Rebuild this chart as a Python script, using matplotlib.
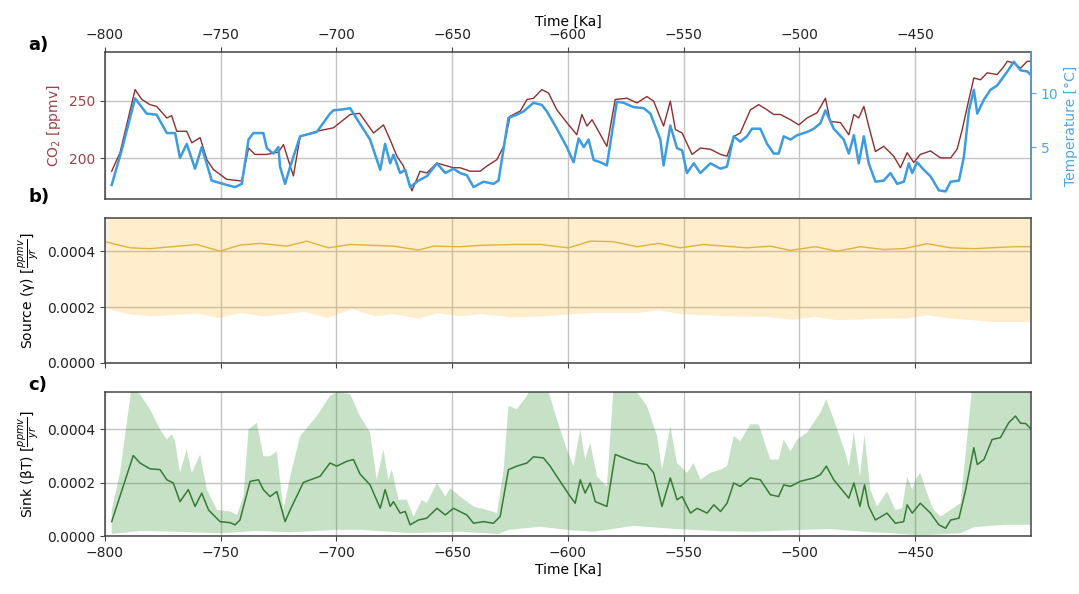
import numpy as np
import matplotlib
matplotlib.use("Agg")
import matplotlib.pyplot as plt

# panel a) CO2 and temperature
co2_time = [-797.1, -793.5, -787.0, -784.1, -780.6, -777.7, -773.3, -771.2, -769.0, -764.7,
            -762.5, -758.9, -756.0, -753.2, -747.4, -740.9, -738.0, -735.2, -730.1, -725.1,
            -722.9, -720.0, -718.6, -715.7, -708.5, -701.3, -694.1, -690.0, -684.0, -679.7,
            -676.8, -673.9, -671.1, -667.4, -663.9, -661.0, -656.6, -649.5, -646.6, -642.3,
            -637.9, -635.0, -630.7, -627.8, -625.0, -620.6, -617.7, -614.9, -611.3, -608.4,
            -604.8, -600.5, -596.2, -594.0, -591.8, -589.6, -583.2, -579.6, -574.5, -570.2,
            -565.9, -563.0, -558.7, -555.8, -553.6, -550.7, -546.4, -542.8, -538.5, -534.1,
            -531.3, -528.4, -525.6, -521.2, -517.6, -514.0, -511.1, -508.2, -503.9, -500.3,
            -496.7, -492.4, -488.8, -486.7, -482.3, -478.7, -476.5, -474.4, -472.2, -470.1,
            -467.2, -463.6, -459.3, -456.4, -453.5, -450.6, -447.8, -443.4, -439.1, -434.7,
            -431.9, -429.7, -427.5, -424.7, -421.8, -418.9, -414.6, -411.7, -410.2, -407.4,
            -404.5, -401.6, -400.2]
co2_ppmv = [189, 205, 259.5, 251, 246.5, 245, 235, 237, 223.5, 223.5,
            213.5, 218, 199, 190.5, 182, 180.5, 209, 203.5, 203.5, 205.5,
            212, 193.5, 185, 219, 223.5, 226.5, 238, 239, 222, 229,
            216, 202, 193.5, 172, 189, 187.5, 196, 192, 192, 189,
            189, 193.5, 199, 210.5, 236.5, 241, 251, 252, 259.5, 256.5,
            242, 231, 220.5, 238, 228, 233.5, 210.5, 251, 252, 248,
            253.5, 249.5, 228, 249.5, 225, 222, 203.5, 209, 208, 203.5,
            202, 219, 222, 242, 246.5, 242, 238, 238, 233.5, 229,
            235, 239.5, 252, 232, 231, 220.5, 238, 235, 245, 228,
            206, 210.5, 202, 192, 205, 196.5, 203.5, 206.5, 200.5, 200.5,
            208, 225, 245, 269.5, 268, 274, 272.5, 279.5, 284, 282.5,
            278, 284, 284]

temp_time = [-797.1, -792.8, -787.0, -782.0, -777.7, -773.3, -769.7, -767.6, -764.7, -761.1,
             -758.2, -753.9, -747.4, -743.8, -740.9, -738.0, -735.9, -731.6, -730.1, -727.3,
             -725.1, -724.4, -722.2, -720.0, -715.7, -708.5, -702.8, -701.3, -697.0, -694.1,
             -690.0, -685.5, -681.1, -679.0, -676.8, -675.4, -672.5, -670.3, -668.2, -664.6,
             -661.0, -656.6, -653.0, -649.5, -646.6, -643.7, -640.8, -636.5, -632.2, -630.0,
             -625.7, -622.1, -619.2, -614.9, -611.3, -609.1, -604.8, -600.5, -597.6, -595.4,
             -593.2, -591.1, -588.9, -586.0, -583.2, -578.9, -576.0, -571.7, -567.3, -564.4,
             -560.1, -558.7, -555.8, -552.9, -550.7, -548.6, -545.7, -542.8, -538.5, -534.1,
             -531.3, -528.4, -525.6, -522.7, -520.5, -516.9, -514.0, -511.1, -509.0, -506.8,
             -503.9, -501.0, -496.7, -493.8, -491.0, -488.8, -485.2, -480.9, -478.7, -476.5,
             -474.4, -472.2, -470.1, -467.2, -463.6, -460.7, -457.8, -454.9, -452.8, -451.3,
             -449.2, -446.3, -443.4, -439.8, -436.9, -434.7, -431.1, -429.0, -426.8, -424.7,
             -423.2, -420.3, -417.5, -414.6, -410.2, -407.4, -404.5, -401.6, -400.2]
temp_c = [1.5, 4.7, 9.5, 8.1, 8.0, 6.3, 6.3, 4.0, 5.3, 3.0,
          5.0, 1.9, 1.5, 1.3, 1.6, 5.7, 6.3, 6.3, 4.9, 4.4,
          5.0, 3.2, 1.6, 3.2, 6.0, 6.4, 8.1, 8.4, 8.5, 8.6,
          7.2, 5.7, 2.9, 5.3, 3.5, 4.3, 2.6, 2.9, 1.3, 1.9,
          2.3, 3.5, 2.6, 3.0, 2.6, 2.4, 1.3, 1.8, 1.6, 1.9,
          7.7, 8.0, 8.3, 9.1, 8.9, 8.3, 6.7, 5.0, 3.6, 5.8,
          5.0, 5.7, 3.8, 3.6, 3.3, 9.2, 9.1, 8.7, 8.6, 8.1,
          5.7, 3.3, 7.0, 4.9, 4.7, 2.6, 3.5, 2.6, 3.5, 3.0,
          3.2, 6.0, 5.5, 6.0, 6.7, 6.7, 5.3, 4.4, 4.4, 6.0,
          5.7, 6.1, 6.4, 6.7, 7.2, 8.4, 6.7, 5.7, 4.4, 6.1,
          3.5, 6.0, 3.5, 1.8, 1.9, 2.6, 1.6, 1.8, 3.5, 2.6,
          3.6, 2.9, 2.3, 1.0, 0.9, 1.8, 1.9, 4.1, 8.4, 10.3,
          8.1, 9.4, 10.3, 10.7, 12.0, 12.9, 12.1, 12.0, 11.7]

# panel b) source
src_time = [-799.3, -789.2, -780.6, -760.4, -750.3, -741.7, -733.0, -721.5, -712.8, -703.5,
            -694.1, -675.4, -664.6, -658.1, -646.6, -637.9, -623.6, -612.0, -599.8, -590.4,
            -580.3, -570.2, -560.9, -551.5, -541.4, -522.7, -512.6, -504.0, -493.1, -483.7,
            -473.7, -463.6, -454.9, -444.9, -434.7, -424.7, -407.4, -400.5]
src_mean = [0.000434, 0.000413, 0.000410, 0.000425, 0.000401, 0.000423, 0.000429, 0.000419, 0.000437, 0.000413,
            0.000425, 0.000419, 0.000405, 0.000419, 0.000417, 0.000422, 0.000425, 0.000425, 0.000413, 0.000437,
            0.000435, 0.000417, 0.000429, 0.000413, 0.000425, 0.000413, 0.000419, 0.000404, 0.000417, 0.000401,
            0.000417, 0.000407, 0.000410, 0.000428, 0.000413, 0.000410, 0.000417, 0.000417]
src_lo_time = [-799.3, -790.6, -780.6, -760.4, -751.0, -741.7, -731.6, -714.3, -704.2, -693.4,
               -684.0, -675.4, -664.6, -656.6, -646.6, -637.9, -623.6, -612.0, -590.4, -570.2,
               -560.9, -551.5, -531.3, -514.0, -503.2, -493.1, -483.7, -463.6, -454.9, -444.9,
               -434.7, -424.7, -417.5, -407.4, -400.5]
src_lo = [0.000197, 0.000177, 0.000169, 0.000179, 0.000163, 0.000181, 0.000169, 0.000185, 0.000163, 0.000195,
          0.000169, 0.000177, 0.000161, 0.000181, 0.000169, 0.000177, 0.000165, 0.000169, 0.000181, 0.000181,
          0.000191, 0.000177, 0.000169, 0.000167, 0.000157, 0.000167, 0.000155, 0.000161, 0.000161, 0.000173,
          0.000161, 0.000155, 0.000149, 0.000149, 0.000149]
src_hi = 0.00066  # upper edge of the band, above the plotted range

# panel c) sink
sink_time = [-797.1, -787.8, -784.9, -780.6, -776.2, -773.3, -770.5, -767.6, -764.0, -761.1,
             -758.2, -755.3, -750.3, -745.9, -743.8, -741.7, -737.3, -733.7, -731.6, -728.7,
             -725.8, -722.2, -720.0, -714.3, -707.1, -702.8, -699.9, -695.6, -692.7, -689.8,
             -685.5, -681.1, -679.0, -676.8, -675.4, -672.5, -670.3, -668.2, -664.6, -661.0,
             -656.6, -653.0, -649.5, -643.7, -640.8, -636.5, -632.2, -629.3, -625.7, -622.1,
             -617.7, -614.9, -610.6, -607.7, -603.4, -599.0, -596.9, -594.7, -592.6, -590.4,
             -588.2, -583.2, -579.6, -576.0, -570.2, -565.9, -563.0, -559.4, -555.8, -552.9,
             -550.7, -547.1, -544.2, -539.9, -537.0, -534.1, -531.3, -528.4, -525.6, -521.2,
             -516.9, -512.6, -509.0, -506.8, -503.9, -499.7, -493.8, -491.0, -488.4, -485.2,
             -478.7, -476.5, -473.9, -471.9, -470.1, -467.2, -462.2, -458.6, -455.0, -453.5,
             -451.3, -447.8, -443.4, -439.8, -436.9, -434.7, -431.1, -428.2, -424.7, -423.2,
             -420.3, -416.8, -413.2, -409.6, -406.7, -404.5, -402.3, -400.2]
sink_mean = [0.000054, 0.000302, 0.000274, 0.000252, 0.000249, 0.000211, 0.000199, 0.000129, 0.000174, 0.000111,
             0.000161, 0.000098, 0.000054, 0.000050, 0.000042, 0.000060, 0.000205, 0.000211, 0.000174, 0.000148,
             0.000167, 0.000054, 0.000098, 0.000201, 0.000224, 0.000274, 0.000262, 0.000280, 0.000287, 0.000232,
             0.000192, 0.000104, 0.000174, 0.000111, 0.000129, 0.000086, 0.000092, 0.000042, 0.000060, 0.000067,
             0.000104, 0.000079, 0.000104, 0.000079, 0.000048, 0.000054, 0.000048, 0.000073, 0.000249, 0.000262,
             0.000274, 0.000297, 0.000293, 0.000262, 0.000205, 0.000148, 0.000123, 0.000211, 0.000161, 0.000199,
             0.000129, 0.000111, 0.000306, 0.000293, 0.000274, 0.000268, 0.000237, 0.000111, 0.000218, 0.000136,
             0.000148, 0.000086, 0.000104, 0.000086, 0.000117, 0.000092, 0.000123, 0.000199, 0.000186, 0.000218,
             0.000211, 0.000155, 0.000148, 0.000192, 0.000186, 0.000205, 0.000218, 0.000230, 0.000262, 0.000211,
             0.000142, 0.000199, 0.000111, 0.000192, 0.000111, 0.000060, 0.000086, 0.000048, 0.000054, 0.000117,
             0.000086, 0.000123, 0.000086, 0.000042, 0.000029, 0.000060, 0.000067, 0.000174, 0.000331, 0.000268,
             0.000287, 0.000362, 0.000369, 0.000425, 0.000450, 0.000423, 0.000422, 0.000403]
sink_hi_time = [-797.1, -793.5, -790.0, -788.5, -784.9, -780.6, -776.2, -773.3, -771.2, -769.7,
                -767.6, -764.7, -762.5, -758.9, -756.0, -751.6, -745.9, -743.0, -740.2, -738.0,
                -734.4, -731.6, -728.7, -725.8, -722.9, -720.0, -715.7, -708.5, -702.8, -699.9,
                -694.1, -689.8, -685.5, -682.6, -679.7, -677.6, -676.1, -673.2, -669.6, -666.7,
                -663.1, -661.0, -656.6, -653.0, -650.9, -646.6, -640.8, -635.0, -630.7, -627.8,
                -625.7, -622.1, -617.7, -616.3, -609.1, -604.8, -600.5, -597.6, -594.7, -592.6,
                -590.4, -587.5, -583.2, -580.3, -574.5, -570.2, -565.9, -561.5, -559.4, -555.8,
                -552.9, -548.6, -545.7, -542.8, -538.5, -534.1, -531.3, -528.4, -525.6, -521.2,
                -517.6, -512.6, -509.0, -506.8, -503.9, -501.0, -496.7, -491.0, -488.4, -485.2,
                -480.2, -478.7, -476.5, -473.9, -471.9, -469.4, -466.5, -462.2, -458.6, -455.7,
                -453.5, -451.3, -449.9, -447.8, -444.9, -442.0, -439.1, -434.7, -430.4, -427.5,
                -425.4, -422.0, -400.2]
sink_hi = [0.000098, 0.000237, 0.000463, 0.000560, 0.000532, 0.000476, 0.000400, 0.000362, 0.000381, 0.000356,
           0.000237, 0.000325, 0.000237, 0.000306, 0.000174, 0.000098, 0.000092, 0.000079, 0.000148, 0.000400,
           0.000425, 0.000299, 0.000299, 0.000318, 0.000098, 0.000224, 0.000375, 0.000450, 0.000526, 0.000539,
           0.000532, 0.000450, 0.000388, 0.000211, 0.000325, 0.000211, 0.000249, 0.000136, 0.000136, 0.000073,
           0.000136, 0.000123, 0.000199, 0.000148, 0.000180, 0.000148, 0.000111, 0.000098, 0.000086, 0.000249,
           0.000488, 0.000476, 0.000526, 0.000560, 0.000560, 0.000438, 0.000325, 0.000262, 0.000400, 0.000287,
           0.000350, 0.000224, 0.000186, 0.000560, 0.000560, 0.000539, 0.000488, 0.000375, 0.000249, 0.000413,
           0.000274, 0.000237, 0.000274, 0.000211, 0.000237, 0.000249, 0.000262, 0.000375, 0.000356, 0.000419,
           0.000419, 0.000287, 0.000287, 0.000362, 0.000318, 0.000362, 0.000388, 0.000463, 0.000513, 0.000438,
           0.000312, 0.000262, 0.000388, 0.000224, 0.000381, 0.000174, 0.000111, 0.000167, 0.000098, 0.000104,
           0.000224, 0.000174, 0.000211, 0.000237, 0.000161, 0.000098, 0.000073, 0.000098, 0.000123, 0.000375,
           0.000560, 0.000600, 0.000600]
sink_lo_time = [-797.1, -785.0, -770.0, -750.0, -735.0, -720.0, -700.0, -689.8, -668.2, -646.6,
                -630.0, -625.7, -612.0, -600.5, -588.9, -571.7, -552.9, -534.1, -519.8, -499.7,
                -486.7, -472.2, -459.3, -447.8, -430.5, -424.7, -411.7, -400.2]
sink_lo = [0.0000075, 0.000019, 0.000016, 0.000010, 0.000019, 0.000014, 0.000023, 0.000023, 0.000011, 0.000016,
           0.0000075, 0.000023, 0.000035, 0.000023, 0.000016, 0.000038, 0.000026, 0.000018, 0.000016, 0.000023,
           0.000026, 0.000016, 0.000010, 0.0000025, 0.000010, 0.000033, 0.000042, 0.000042]

x_ticks = [-800, -750, -700, -650, -600, -550, -500, -450]

co2_color = "#8c2f2f"
temp_color = "#3d9be0"
grid_color = "#c4c4c4"
spine_color = "#444444"

fig = plt.figure(figsize=(10.79, 5.94), dpi=100)
ax_a = fig.add_axes([0.0973, 0.665, 0.8582, 0.2475])
ax_b = fig.add_axes([0.0973, 0.3889, 0.8582, 0.2441])
ax_c = fig.add_axes([0.0973, 0.0976, 0.8582, 0.2424])


def style(ax):
    ax.set_xlim(-800, -400)
    ax.set_xticks(x_ticks)
    ax.grid(True, color=grid_color, linewidth=1.0)
    ax.set_axisbelow(True)
    for s in ax.spines.values():
        s.set_color(spine_color)
        s.set_linewidth(1.1)
    ax.tick_params(labelsize=10, colors=spine_color, labelcolor="#222222")


# a)
style(ax_a)
ax_a.plot(co2_time, co2_ppmv, color=co2_color, linewidth=1.0)
ax_a.set_ylim(165, 292)
ax_a.set_yticks([200, 250])
ax_a.xaxis.tick_top()
ax_a.xaxis.set_label_position("top")
ax_a.set_xlabel("Time [Ka]", fontsize=10, labelpad=2)
ax_a.set_ylabel("CO$_2$ [ppmv]", color="#9a4444", fontsize=10)
ax_a.tick_params(axis="y", labelcolor="#9a4444")
ax_a.grid(False, axis="y")
for y in [200, 250]:
    ax_a.axhline(y, color=grid_color, linewidth=1.0, zorder=0)

ax_t = ax_a.twinx()
ax_t.plot(temp_time, temp_c, color=temp_color, linewidth=1.8)
ax_t.set_ylim(0.2, 13.8)
ax_t.set_yticks([5, 10])
ax_t.set_ylabel("Temperature [°C]", color="#4fa6e2", fontsize=10)
ax_t.tick_params(axis="y", labelsize=10, colors="#4fa6e2", labelcolor="#4fa6e2")
ax_t.spines["right"].set_color("#4fa6e2")
ax_t.spines["right"].set_linewidth(1.1)
for s in ["left", "top", "bottom"]:
    ax_t.spines[s].set_visible(False)

# b)
style(ax_b)
ax_b.fill_between(src_lo_time, src_lo, src_hi, color="orange", alpha=0.2, linewidth=0)
ax_b.plot(src_time, src_mean, color="#e3b23c", linewidth=1.0)
ax_b.set_ylim(0, 0.00052)
ax_b.set_yticks([0.0, 0.0002, 0.0004])
ax_b.set_yticklabels(["0.0000", "0.0002", "0.0004"])
ax_b.set_xticklabels([])
ax_b.set_ylabel("Source (γ) [$\\frac{ppmv}{yr}$]", fontsize=10)

# c)
style(ax_c)
poly_t = np.concatenate([sink_hi_time, sink_lo_time[::-1]])
poly_v = np.concatenate([sink_hi, sink_lo[::-1]])
ax_c.fill(poly_t, poly_v, color="forestgreen", alpha=0.25, linewidth=0)
ax_c.plot(sink_time, sink_mean, color="#367a36", linewidth=1.1)
ax_c.set_ylim(0, 0.00054)
ax_c.set_yticks([0.0, 0.0002, 0.0004])
ax_c.set_yticklabels(["0.0000", "0.0002", "0.0004"])
ax_c.set_xlabel("Time [Ka]", fontsize=10, labelpad=2)
ax_c.set_ylabel("Sink (βT) [$\\frac{ppmv}{yr}$]", fontsize=10)

fig.text(0.026, 0.924, "a)", fontsize=13, fontweight="bold", va="center")
fig.text(0.026, 0.668, "b)", fontsize=13, fontweight="bold", va="center")
fig.text(0.026, 0.352, "c)", fontsize=13, fontweight="bold", va="center")

plt.savefig("out.png", dpi=100)
plt.close()
